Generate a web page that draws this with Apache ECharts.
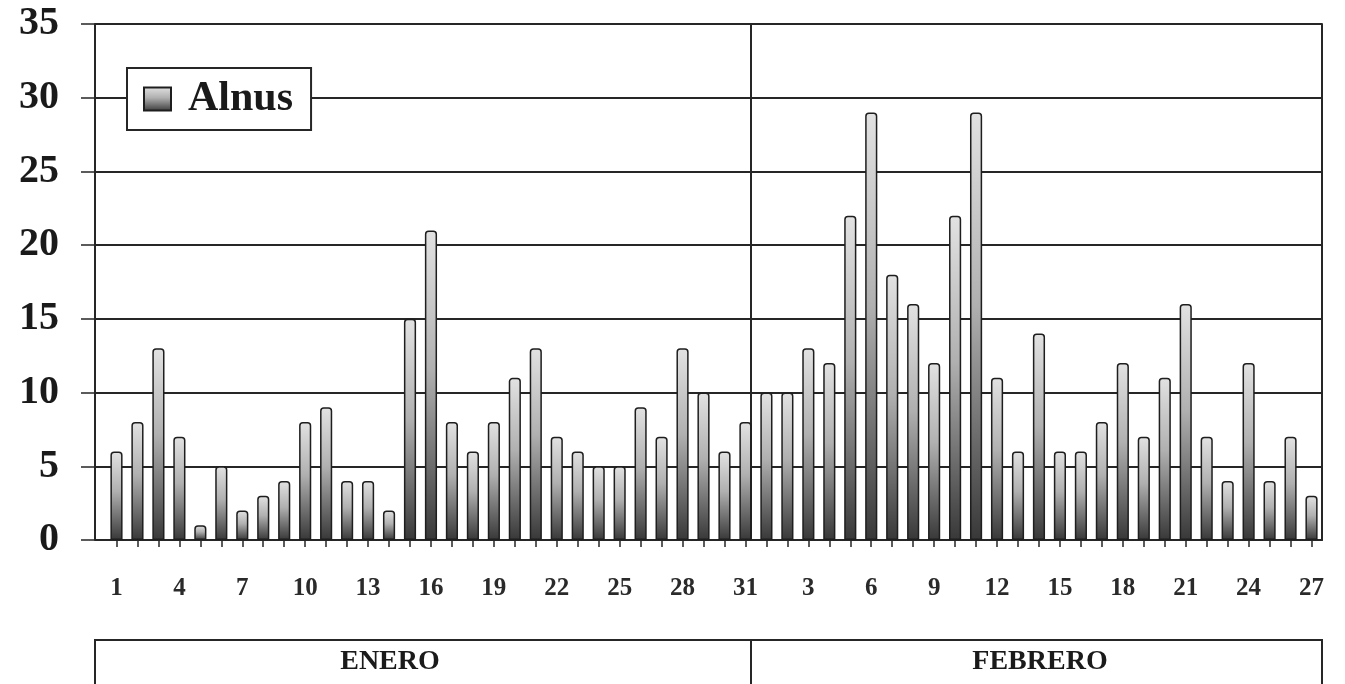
<!DOCTYPE html>
<html>
<head>
<meta charset="utf-8">
<title>Alnus</title>
<script src="https://cdn.jsdelivr.net/npm/echarts@6/dist/echarts.min.js"></script>
<style>
  html, body { margin: 0; padding: 0; background: #fff; }
  #chart { width: 1345px; height: 684px; }
</style>
</head>
<body>
<div id="chart"></div>
<script>
// Daily Alnus pollen counts, January and February
const seriesName = 'Alnus';
const monthNames = ['ENERO', 'FEBRERO'];
const eneroValues = [6, 8, 13, 7, 1, 5, 2, 3, 4, 8, 9, 4, 4, 2, 15, 21, 8, 6, 8, 11, 13, 7, 6, 5, 5, 9, 7, 13, 10, 6, 8];
const febreroValues = [10, 10, 13, 12, 22, 29, 18, 16, 12, 22, 29, 11, 6, 14, 6, 6, 8, 12, 7, 11, 16, 7, 4, 12, 4, 7, 3];
const yTicks = [0, 5, 10, 15, 20, 25, 30, 35];

// Day-of-month labels for each month, joined into one category axis
const eneroDays = eneroValues.map((_, i) => String(i + 1));
const febreroDays = febreroValues.map((_, i) => String(i + 1));
const categories = eneroDays.concat(febreroDays);
const values = eneroValues.concat(febreroValues);
const monthBreak = eneroDays.length;

const ink = '#262626';
const serif = '"Liberation Serif", "Times New Roman", serif';

const yScale = {
  type: 'value',
  min: yTicks[0],
  max: yTicks[yTicks.length - 1],
  interval: yTicks[1] - yTicks[0]
};

const chart = echarts.init(document.getElementById('chart'), null, { renderer: 'canvas' });

chart.setOption({
  backgroundColor: '#ffffff',
  animation: false,
  grid: { left: 106, right: 23, top: 24, bottom: 144, show: false },
  legend: {
    data: [seriesName],
    left: 127, top: 68,
    padding: [10, 18, 10, 16],
    borderColor: ink, borderWidth: 2,
    backgroundColor: '#fff',
    itemWidth: 27, itemHeight: 23,
    icon: 'rect',
    textStyle: {
      fontFamily: serif, fontSize: 42, lineHeight: 42, fontWeight: 'bold', color: '#1a1a1a',
      padding: [0, 0, 0, 12]
    }
  },
  xAxis: {
    type: 'category',
    data: categories,
    boundaryGap: true,
    axisLine: { show: true, lineStyle: { color: ink, width: 2 } },
    axisTick: { show: true, alignWithLabel: true, interval: 0, length: 7, lineStyle: { color: ink, width: 1.5 } },
    axisLabel: {
      interval: 2, margin: 36,
      fontFamily: serif, fontSize: 25, fontWeight: 'bold', color: '#2a2a2a'
    },
    splitLine: { show: false }
  },
  yAxis: [
    // main value axis: labels, axis line and the short joins to the gridlines
    Object.assign({}, yScale, {
      position: 'left', offset: 11,
      axisLine: { show: true, lineStyle: { color: ink, width: 2 } },
      axisTick: { show: true, inside: true, length: 11, lineStyle: { color: ink, width: 2 } },
      axisLabel: {
        margin: 36,
        fontFamily: serif, fontSize: 40, fontWeight: 'bold', color: '#1a1a1a'
      },
      splitLine: { show: true, lineStyle: { color: ink, width: 2 } }
    }),
    // outer tick marks on the left
    Object.assign({}, yScale, {
      position: 'left', offset: 11,
      axisLine: { show: false },
      axisTick: { show: true, length: 14, lineStyle: { color: ink, width: 1.5 } },
      axisLabel: { show: false },
      splitLine: { show: false }
    }),
    // right-hand frame line
    Object.assign({}, yScale, {
      position: 'right', offset: 0,
      axisLine: { show: true, lineStyle: { color: ink, width: 2 } },
      axisTick: { show: false },
      axisLabel: { show: false },
      splitLine: { show: false }
    })
  ],
  series: [{
    name: seriesName,
    type: 'bar',
    yAxisIndex: 0,
    data: values,
    barWidth: '58%',
    itemStyle: {
      color: new echarts.graphic.LinearGradient(0, 0, 0, 1, [
        { offset: 0, color: '#e2e2e2' },
        { offset: 0.45, color: '#b0b0b0' },
        { offset: 1, color: '#383838' }
      ]),
      borderColor: '#1e1e1e',
      borderWidth: 1.5,
      borderRadius: [3, 3, 0, 0]
    }
  }]
});

// Month divider and the month table below the day labels
const lastEnero = chart.convertToPixel({ xAxisIndex: 0 }, monthBreak - 1);
const firstFebrero = chart.convertToPixel({ xAxisIndex: 0 }, monthBreak);
const splitX = Math.round(lastEnero + (firstFebrero - lastEnero) * 0.25);
const yTop = chart.convertToPixel({ yAxisIndex: 0 }, yScale.max);
const yBottom = chart.convertToPixel({ yAxisIndex: 0 }, yScale.min);
const axisX = 95;
const frameRight = chart.getWidth() - 23;
const tableTop = 640;
const tableBottom = 700;

chart.setOption({
  graphic: [
    {
      type: 'line',
      shape: { x1: splitX, y1: yTop, x2: splitX, y2: yBottom },
      style: { stroke: ink, lineWidth: 2 }
    },
    {
      type: 'rect',
      shape: { x: axisX, y: tableTop, width: frameRight - axisX, height: tableBottom - tableTop },
      style: { fill: '#fff', stroke: ink, lineWidth: 2 }
    },
    {
      type: 'line',
      shape: { x1: splitX, y1: tableTop, x2: splitX, y2: tableBottom },
      style: { stroke: ink, lineWidth: 2 }
    },
    {
      type: 'text',
      x: 390, y: 662,
      style: {
        text: monthNames[0], align: 'center', verticalAlign: 'middle',
        font: 'bold 28px ' + serif, fill: '#1a1a1a'
      }
    },
    {
      type: 'text',
      x: 1040, y: 662,
      style: {
        text: monthNames[1], align: 'center', verticalAlign: 'middle',
        font: 'bold 28px ' + serif, fill: '#1a1a1a'
      }
    }
  ]
});
</script>
</body>
</html>
